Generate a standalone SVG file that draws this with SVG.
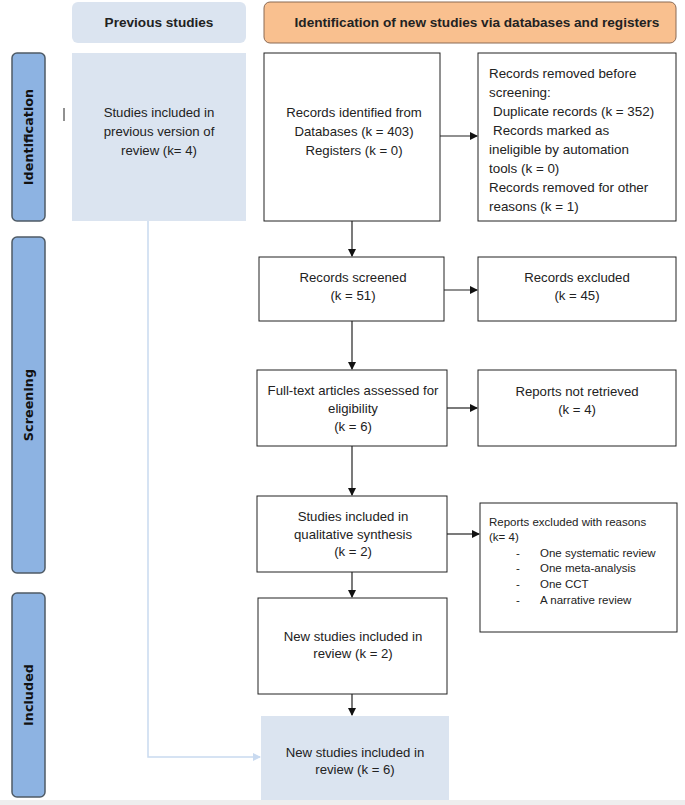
<svg xmlns="http://www.w3.org/2000/svg" width="685" height="805" viewBox="0 0 685 805">
<style>
.box{fill:#ffffff;stroke:#222;stroke-width:1}
.blue{fill:#dbe4f0;stroke:none}
.tab{fill:#8db3e2;stroke:#4f5b66;stroke-width:1.5}
.t{font-family:"Liberation Sans",Arial,sans-serif;font-size:13.2px;fill:#222;text-anchor:middle}
.tl{font-family:"Liberation Sans",Arial,sans-serif;font-size:13.4px;fill:#222}
.ts{font-family:"Liberation Sans",Arial,sans-serif;font-size:11.5px;fill:#222}
.hb{font-family:"Liberation Sans",Arial,sans-serif;font-size:13.6px;font-weight:bold;fill:#222;text-anchor:middle}
.tabt{font-family:"DejaVu Sans",sans-serif;font-size:12.8px;font-weight:bold;fill:#111;text-anchor:middle}
.c{stroke:#222;stroke-width:1.2;fill:none}
.cb{stroke:#c9daf0;stroke-width:1.5;fill:none}
</style>
<defs>
<marker id="ah" markerWidth="8" markerHeight="8" refX="7" refY="4" orient="auto" markerUnits="userSpaceOnUse">
<path d="M0,0 L8,4 L0,8 Z" fill="#111"/>
</marker>
<marker id="ahb" markerWidth="8" markerHeight="8" refX="7" refY="4" orient="auto" markerUnits="userSpaceOnUse">
<path d="M0,0 L8,4 L0,8 Z" fill="#c9daf0"/>
</marker>
</defs>
<rect x="0" y="0" width="685" height="805" fill="#ffffff"/>
<rect x="0" y="800" width="685" height="5" fill="#eeeeee"/>

<g id="hdr-prev">
<rect x="72" y="2" width="174" height="41" rx="6" class="blue"/>
<text class="hb" x="159" y="27">Previous studies</text>
</g>
<g id="hdr-new">
<rect x="264" y="2" width="412" height="41" rx="6" fill="#f9c08f" stroke="#8a6a55" stroke-width="1"/>
<text class="hb" x="477" y="27">Identification of new studies via databases and registers</text>
</g>

<g id="tab-identification">
<rect x="12" y="53" width="33" height="168" rx="5" class="tab"/>
<text class="tabt" transform="translate(33,137) rotate(-90)">Identification</text>
</g>
<g id="tab-screening">
<rect x="12" y="237" width="33" height="336" rx="5" class="tab"/>
<text class="tabt" transform="translate(33,405) rotate(-90)">Screening</text>
</g>
<g id="tab-included">
<rect x="12" y="593" width="33" height="204" rx="5" class="tab"/>
<text class="tabt" transform="translate(33,695) rotate(-90)">Included</text>
</g>

<line x1="64" y1="108" x2="64" y2="121" stroke="#222" stroke-width="1"/>

<g id="prev-studies">
<rect x="72" y="53" width="174" height="168" class="blue"/>
<text class="t" x="159" y="117">Studies included in</text>
<text class="t" x="159" y="136">previous version of</text>
<text class="t" x="159" y="155">review (k= 4)</text>
</g>

<g id="records-identified">
<rect x="264" y="53" width="176" height="168" class="box"/>
<text class="t" x="354" y="117">Records identified from</text>
<text class="t" x="354" y="136">Databases (k = 403)</text>
<text class="t" x="354" y="155">Registers (k = 0)</text>
</g>

<g id="records-removed">
<rect x="478" y="53" width="198" height="168" class="box"/>
<text class="tl" x="489" y="78">Records removed before</text>
<text class="tl" x="489" y="97">screening:</text>
<text class="tl" x="493" y="116">Duplicate records (k = 352)</text>
<text class="tl" x="493" y="135">Records marked as</text>
<text class="tl" x="489" y="154">ineligible by automation</text>
<text class="tl" x="489" y="173">tools (k = 0)</text>
<text class="tl" x="489" y="192">Records removed for other</text>
<text class="tl" x="489" y="211">reasons (k = 1)</text>
</g>

<g id="records-screened">
<rect x="259" y="257" width="185" height="64" class="box"/>
<text class="t" x="353" y="282">Records screened</text>
<text class="t" x="353" y="300">(k = 51)</text>
</g>

<g id="records-excluded">
<rect x="478" y="257" width="198" height="64" class="box"/>
<text class="t" x="577" y="282">Records excluded</text>
<text class="t" x="577" y="300">(k = 45)</text>
</g>

<g id="fulltext">
<rect x="257" y="370" width="190" height="76" class="box"/>
<text class="t" x="353" y="395">Full-text articles assessed for</text>
<text class="t" x="353" y="413">eligibility</text>
<text class="t" x="353" y="431">(k = 6)</text>
</g>

<g id="not-retrieved">
<rect x="478" y="370" width="198" height="76" class="box"/>
<text class="t" x="577" y="396">Reports not retrieved</text>
<text class="t" x="577" y="414">(k = 4)</text>
</g>

<g id="qualitative">
<rect x="257" y="496" width="190" height="76" class="box"/>
<text class="t" x="353" y="521">Studies included in</text>
<text class="t" x="353" y="539">qualitative synthesis</text>
<text class="t" x="353" y="556">(k = 2)</text>
</g>

<g id="excluded-reasons">
<rect x="480" y="503" width="197" height="129" class="box"/>
<text class="ts" x="489" y="526">Reports excluded with reasons</text>
<text class="ts" x="489" y="541">(k= 4)</text>
<text class="ts" x="516" y="557">-</text><text class="ts" x="540" y="557">One systematic review</text>
<text class="ts" x="516" y="572">-</text><text class="ts" x="540" y="572">One meta-analysis</text>
<text class="ts" x="516" y="588">-</text><text class="ts" x="540" y="588">One CCT</text>
<text class="ts" x="516" y="604">-</text><text class="ts" x="540" y="604">A narrative review</text>
</g>

<g id="new-studies">
<rect x="258" y="598" width="189" height="96" class="box"/>
<text class="t" x="353" y="641">New studies included in</text>
<text class="t" x="353" y="658">review (k = 2)</text>
</g>

<g id="total-studies">
<rect x="261" y="716" width="188" height="84" class="blue"/>
<text class="t" x="355" y="757">New studies included in</text>
<text class="t" x="355" y="774">review (k = 6)</text>
</g>

<g id="connectors">
<line class="c" x1="440" y1="136" x2="477" y2="136" marker-end="url(#ah)"/>
<line class="c" x1="352" y1="221" x2="352" y2="256" marker-end="url(#ah)"/>
<line class="c" x1="444" y1="290" x2="477" y2="290" marker-end="url(#ah)"/>
<line class="c" x1="352" y1="321" x2="352" y2="369" marker-end="url(#ah)"/>
<line class="c" x1="447" y1="408" x2="477" y2="408" marker-end="url(#ah)"/>
<line class="c" x1="352" y1="446" x2="352" y2="495" marker-end="url(#ah)"/>
<line class="c" x1="447" y1="534" x2="479" y2="534" marker-end="url(#ah)"/>
<line class="c" x1="352" y1="572" x2="352" y2="597" marker-end="url(#ah)"/>
<line class="c" x1="352" y1="694" x2="352" y2="715" marker-end="url(#ah)"/>
<polyline class="cb" points="148,221 148,757 260,757" marker-end="url(#ahb)"/>
</g>
</svg>
